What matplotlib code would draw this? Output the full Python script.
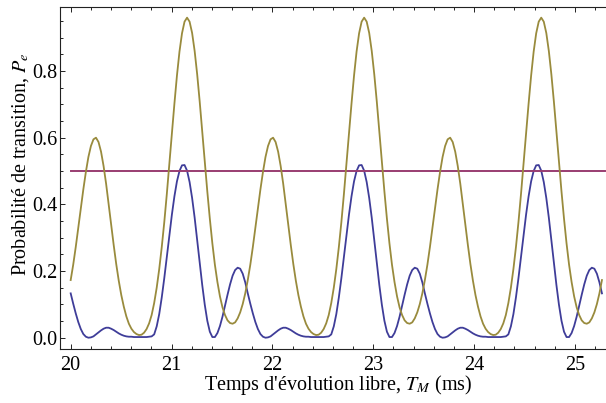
import numpy as np
import matplotlib
matplotlib.use("Agg")
import matplotlib.pyplot as plt
from matplotlib.ticker import MultipleLocator, FormatStrFormatter

plt.rcParams['font.family'] = ['Liberation Serif', 'DejaVu Serif']
plt.rcParams['mathtext.fontset'] = 'stix'

olive = [
    0.173, 0.219, 0.272, 0.329, 0.387, 0.445, 0.497, 0.542, 0.575, 0.595,
    0.600, 0.587, 0.558, 0.515, 0.462, 0.401, 0.339, 0.278, 0.221, 0.171,
    0.128, 0.093, 0.064, 0.042, 0.027, 0.017, 0.011, 0.008, 0.009, 0.015,
    0.026, 0.043, 0.068, 0.104, 0.150, 0.206, 0.272, 0.347, 0.431, 0.520,
    0.612, 0.702, 0.786, 0.858, 0.913, 0.948, 0.960, 0.948, 0.914, 0.860,
    0.790, 0.708, 0.619, 0.528, 0.439, 0.357, 0.283, 0.219, 0.167, 0.124,
    0.091, 0.068, 0.052, 0.044, 0.042, 0.046, 0.058, 0.076, 0.101, 0.133,
    0.173, 0.219, 0.272, 0.329, 0.387, 0.445, 0.497, 0.542, 0.575, 0.595,
    0.600, 0.587, 0.558, 0.515, 0.462, 0.401, 0.339, 0.278, 0.221, 0.171,
    0.128, 0.093, 0.064, 0.042, 0.027, 0.017, 0.011, 0.008, 0.009, 0.015,
    0.026, 0.043, 0.068, 0.104, 0.150, 0.206, 0.272, 0.347, 0.431, 0.520,
    0.612, 0.702, 0.786, 0.858, 0.913, 0.948, 0.960, 0.948, 0.914, 0.860,
    0.790, 0.708, 0.619, 0.528, 0.439, 0.357, 0.283, 0.219, 0.167, 0.124,
    0.091, 0.068, 0.052, 0.044, 0.042, 0.046, 0.058, 0.076, 0.101, 0.133,
    0.173, 0.219, 0.272, 0.329, 0.387, 0.445, 0.497, 0.542, 0.575, 0.595,
    0.600, 0.587, 0.558, 0.515, 0.462, 0.401, 0.339, 0.278, 0.221, 0.171,
    0.128, 0.093, 0.064, 0.042, 0.027, 0.017, 0.011, 0.008, 0.009, 0.015,
    0.026, 0.043, 0.068, 0.104, 0.150, 0.206, 0.272, 0.347, 0.431, 0.520,
    0.612, 0.702, 0.786, 0.858, 0.913, 0.948, 0.960, 0.948, 0.914, 0.860,
    0.790, 0.708, 0.619, 0.528, 0.439, 0.357, 0.283, 0.219, 0.167, 0.124,
    0.091, 0.068, 0.052, 0.044, 0.042, 0.046, 0.058, 0.076, 0.101, 0.133,
    0.173,
]

blue = [
    0.133, 0.102, 0.073, 0.047, 0.026, 0.011, 0.003, 0.000, 0.001, 0.004,
    0.010, 0.016, 0.022, 0.027, 0.030, 0.030, 0.027, 0.023, 0.018, 0.013,
    0.009, 0.006, 0.004, 0.003, 0.003, 0.002, 0.002, 0.002, 0.002, 0.002,
    0.002, 0.003, 0.004, 0.010, 0.034, 0.071, 0.121, 0.179, 0.243, 0.307,
    0.369, 0.424, 0.469, 0.500, 0.517, 0.518, 0.501, 0.467, 0.419, 0.360,
    0.293, 0.224, 0.158, 0.099, 0.051, 0.018, 0.002, 0.002, 0.014, 0.035,
    0.063, 0.096, 0.129, 0.160, 0.186, 0.203, 0.210, 0.207, 0.192, 0.166,
    0.133, 0.102, 0.073, 0.047, 0.026, 0.011, 0.003, 0.000, 0.001, 0.004,
    0.010, 0.016, 0.022, 0.027, 0.030, 0.030, 0.027, 0.023, 0.018, 0.013,
    0.009, 0.006, 0.004, 0.003, 0.003, 0.002, 0.002, 0.002, 0.002, 0.002,
    0.002, 0.003, 0.004, 0.010, 0.034, 0.071, 0.121, 0.179, 0.243, 0.307,
    0.369, 0.424, 0.469, 0.500, 0.517, 0.518, 0.501, 0.467, 0.419, 0.360,
    0.293, 0.224, 0.158, 0.099, 0.051, 0.018, 0.002, 0.002, 0.014, 0.035,
    0.063, 0.096, 0.129, 0.160, 0.186, 0.203, 0.210, 0.207, 0.192, 0.166,
    0.133, 0.102, 0.073, 0.047, 0.026, 0.011, 0.003, 0.000, 0.001, 0.004,
    0.010, 0.016, 0.022, 0.027, 0.030, 0.030, 0.027, 0.023, 0.018, 0.013,
    0.009, 0.006, 0.004, 0.003, 0.003, 0.002, 0.002, 0.002, 0.002, 0.002,
    0.002, 0.003, 0.004, 0.010, 0.034, 0.071, 0.121, 0.179, 0.243, 0.307,
    0.369, 0.424, 0.469, 0.500, 0.517, 0.518, 0.501, 0.467, 0.419, 0.360,
    0.293, 0.224, 0.158, 0.099, 0.051, 0.018, 0.002, 0.002, 0.014, 0.035,
    0.063, 0.096, 0.129, 0.160, 0.186, 0.203, 0.210, 0.207, 0.192, 0.166,
    0.133,
]

t_first, t_last = 20.0, 25.268
level_x = [20.0, 25.3]
level_y = [0.5, 0.5]

x_ticks = [20, 21, 22, 23, 24, 25]
y_ticks = [0.0, 0.2, 0.4, 0.6, 0.8]

t = np.linspace(t_first, t_last, len(olive))

# ---- figure ----
fig = plt.figure(figsize=(6.06, 4.03), dpi=100)
ax = fig.add_axes([0.0990, 0.1347, 0.9173, 0.8471])

blue_c = '#3f3d99'
purple_c = '#993d71'
olive_c = '#998b3d'

ax.plot(t, blue, color=blue_c, lw=1.3, solid_joinstyle='round')
ax.plot(level_x, level_y, color=purple_c, lw=1.4)
ax.plot(t, olive, color=olive_c, lw=1.3, solid_joinstyle='round')

ax.set_xlim(19.894, 25.406)
ax.set_ylim(-0.033, 0.991)

ax.set_xticks(x_ticks)
ax.set_yticks(y_ticks)
ax.xaxis.set_minor_locator(MultipleLocator(0.2))
ax.yaxis.set_minor_locator(MultipleLocator(0.05))
ax.yaxis.set_major_formatter(FormatStrFormatter('%.1f'))
ax.xaxis.set_major_formatter(FormatStrFormatter('%d'))

ax.tick_params(which='both', direction='in', top=True, right=True,
               width=0.7, color='#222222', labelsize=14.5)
ax.tick_params(which='major', length=3.4)
ax.tick_params(which='minor', length=2.0)
ax.tick_params(axis='x', which='major', pad=5)
ax.tick_params(axis='y', which='major', pad=2)

for s in ax.spines.values():
    s.set_linewidth(0.8)
    s.set_color('#222222')

ax.set_xlabel("Temps d'évolution libre, $T_M$ (ms)", fontsize=14.5)
ax.set_ylabel("Probabilité de transition, $P_e$", fontsize=14.5)
ax.xaxis.set_label_coords(0.50, -0.072)
ax.yaxis.set_label_coords(-0.052, 0.54)

fig.savefig('out.png', dpi=100)
